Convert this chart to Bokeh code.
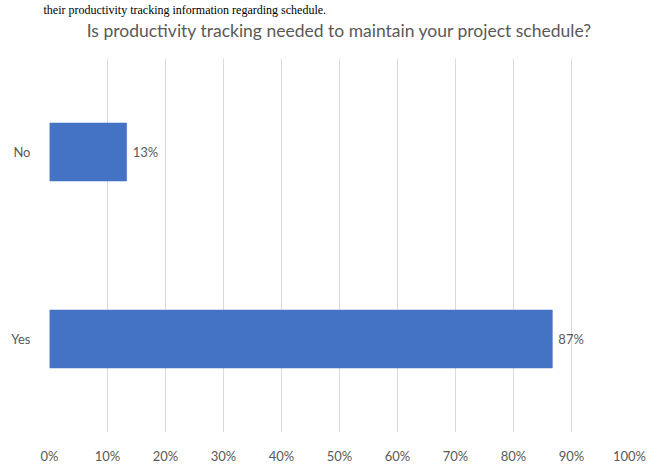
from bokeh.plotting import figure
from bokeh.models import Range1d, FactorRange, FixedTicker, Title, ColumnDataSource
from bokeh.core.properties import value
from bokeh.embed import file_html
from bokeh.resources import INLINE

categories = ["Yes", "No"]
shares = [86.7, 13.3]
share_labels = ["87%", "13%"]
tick_values = [0, 10, 20, 30, 40, 50, 60, 70, 80, 90, 100]
tick_labels = ["0%", "10%", "20%", "30%", "40%", "50%", "60%", "70%", "80%", "90%", "100%"]
title_text = "Is productivity tracking needed to maintain your project schedule?"
caption_text = "their productivity tracking information regarding schedule."

W, H = 657, 466
FL, FR, FT, FB = 49, 28, 55, 27  # frame borders
p = figure(width=W, height=H, output_backend="svg", toolbar_location=None,
           x_range=Range1d(0, 100), y_range=FactorRange(factors=categories),
           min_border_left=FL, min_border_right=FR, min_border_top=FT, min_border_bottom=FB)
p.background_fill_color = "white"
p.border_fill_color = "white"
p.outline_line_color = None

# outermost (top) text: caption fragment
p.title.text = caption_text
p.title.align = "left"
p.title.offset = -6
p.title.standoff = 0
p.title.text_font = "Liberation Serif"
p.title.text_font_size = "12px"
p.title.text_font_style = "normal"
p.title.text_color = "black"
# spacer between chart title and plot area (added first so it sits next to the frame)
p.add_layout(Title(text=" ", standoff=14, text_font_size="1px"), "above")
# chart title
p.add_layout(Title(text=title_text, align="center", standoff=2,
                   text_font="Lato", text_font_size="17.5px",
                   text_font_style="normal", text_color="#595959"), "above")

src = ColumnDataSource(dict(cat=categories, val=shares, lab=share_labels))
p.hbar(y="cat", left=0, right="val", height=0.31, source=src,
       fill_color="#4472C4", line_color="#4472C4", line_width=0.5)
p.text(x="val", y="cat", text="lab", source=src, x_offset=6,
       text_baseline="middle", text_align="left", text_color="#595959",
       text_font=value("Lato"), text_font_size="13px")

p.xaxis.ticker = FixedTicker(ticks=tick_values)
p.xaxis.major_label_overrides = {v: l for v, l in zip(tick_values, tick_labels)}
for ax in (p.xaxis, p.yaxis):
    ax.axis_line_color = None
    ax.major_tick_line_color = None
    ax.minor_tick_line_color = None
    ax.major_label_text_color = "#595959"
    ax.major_label_text_font = "Lato"
    ax.major_label_text_font_size = "13px"
p.xaxis.major_label_standoff = 9
p.yaxis.major_label_standoff = 13

p.xgrid.grid_line_color = "#d9d9d9"
p.ygrid.grid_line_color = None

open("out.html", "w").write(file_html(p, INLINE))
